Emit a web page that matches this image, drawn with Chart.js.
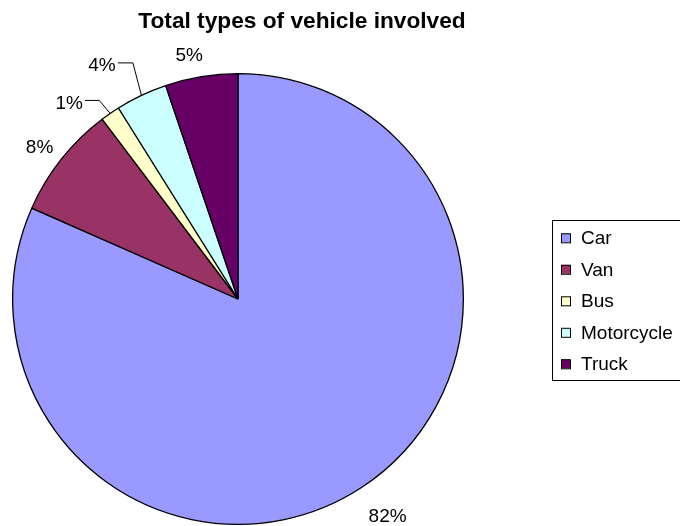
<!DOCTYPE html>
<html>
<head>
<meta charset="utf-8">
<title>Total types of vehicle involved</title>
<script src="https://cdn.jsdelivr.net/npm/chart.js@4.4.1/dist/chart.umd.min.js"></script>
<style>
    body { margin: 0; background: #ffffff; }
    #grafico-veicoli { display: block; }
</style>
</head>
<body>
<canvas id="grafico-veicoli" width="680" height="526"></canvas>
<script>
var titolo = 'Total types of vehicle involved';
var veicoli = ['Car', 'Van', 'Bus', 'Motorcycle', 'Truck'];
var percentuali = [81.6, 8.1, 1.4, 3.7, 5.2];
var colori = ['#9999FF', '#993366', '#FFFFCC', '#CCFFFF', '#660066'];

// spostamento etichette rispetto al punto medio del bordo della fetta
var spostamenti = [
    { x: 26.5, y: 33.8 },
    { x: -21.7, y: -6.6 },
    { x: -41, y: -4.9, linea: [[-10.9, -13], [-25.2, -13]] },
    { x: -39.5, y: -24.2, linea: [[-8.5, -32.5], [-23.5, -32.5]] },
    { x: -12.1, y: -15.7 }
];

var fontTesto = '19px "Liberation Sans", Arial, sans-serif';

var pluginTesti = {
    id: 'testi',
    afterDraw: function (chart) {
        var ctx = chart.ctx;
        ctx.save();
        ctx.fillStyle = '#000000';
        ctx.strokeStyle = '#000000';
        ctx.lineWidth = 1;

        // titolo
        ctx.font = 'bold 22.7px "Liberation Sans", Arial, sans-serif';
        ctx.textAlign = 'left';
        ctx.textBaseline = 'alphabetic';
        ctx.fillText(titolo, 138.3, 28.3);

        // etichette percentuali
        ctx.font = fontTesto;
        ctx.textAlign = 'center';
        var archi = chart.getDatasetMeta(0).data;
        for (var i = 0; i < archi.length; i++) {
            var arco = archi[i];
            var medio = (arco.startAngle + arco.endAngle) / 2;
            var bx = arco.x + arco.outerRadius * Math.cos(medio);
            var by = arco.y + arco.outerRadius * Math.sin(medio);
            var sp = spostamenti[i];
            if (sp.linea) {
                ctx.beginPath();
                ctx.moveTo(bx, by);
                ctx.lineTo(bx + sp.linea[0][0], by + sp.linea[0][1]);
                ctx.lineTo(bx + sp.linea[1][0], by + sp.linea[1][1]);
                ctx.stroke();
            }
            ctx.fillText(Math.round(percentuali[i]) + '%', bx + sp.x, by + sp.y);
        }

        // legenda
        ctx.strokeRect(552.5, 220.5, 140, 160);
        ctx.textAlign = 'left';
        for (var j = 0; j < veicoli.length; j++) {
            var base = 244.3 + j * 31.5;
            ctx.fillStyle = colori[j];
            ctx.fillRect(561, base - 11, 9, 9);
            ctx.strokeRect(561.5, base - 10.5, 9, 9);
            ctx.fillStyle = '#000000';
            ctx.fillText(veicoli[j], 581, base);
        }
        ctx.restore();
    }
};

var grafico = new Chart(document.getElementById('grafico-veicoli'), {
    type: 'pie',
    data: {
        labels: veicoli,
        datasets: [{
            data: percentuali,
            backgroundColor: colori,
            borderColor: '#000000',
            borderWidth: 1.3
        }]
    },
    options: {
        responsive: false,
        animation: false,
        layout: {
            padding: { left: 12, right: 216, top: 73, bottom: 1 }
        },
        plugins: {
            legend: { display: false },
            title: { display: false },
            tooltip: { enabled: false }
        }
    },
    plugins: [pluginTesti]
});
</script>
</body>
</html>
